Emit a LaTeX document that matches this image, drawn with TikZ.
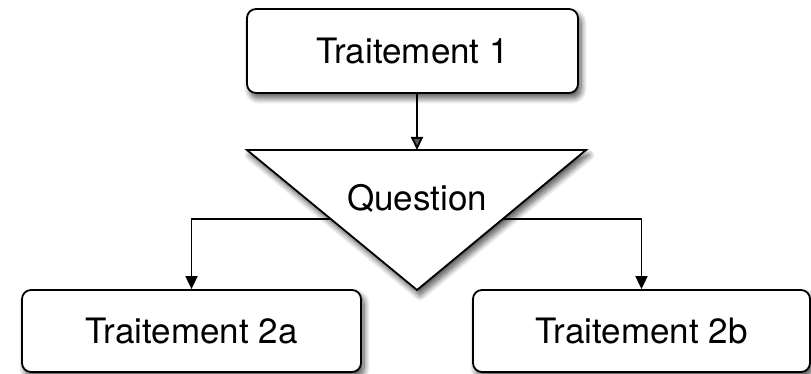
\documentclass[tikz,border=0pt]{standalone}
\usepackage{fontspec}
\setmainfont{TeX Gyre Heros}
\usetikzlibrary{arrows.meta,calc,shadows.blur}
\tikzset{
  x=1pt,y=-1pt,
  sh/.style={blur shadow={shadow xshift=3pt,shadow yshift=-5pt,shadow blur radius=6pt,shadow opacity=70,shadow blur steps=12}},
  box/.style={draw=black,line width=1.8pt,fill=white,rounded corners=9pt,sh,
    font=\fontsize{35}{40}\selectfont,inner sep=0pt},
  conn/.style={line width=1.8pt,-{Triangle[length=13pt,width=12pt]}},
  lbl/.style={font=\fontsize{35}{40}\selectfont,inner sep=0pt}
}
\begin{document}
\begin{tikzpicture}
\useasboundingbox (0,0) rectangle (811,374);
% nodes
\node[box,minimum width=331pt,minimum height=84pt] (t1) at (412.5,51) {Traitement 1};
\coordinate (qtl) at (247,150);
\coordinate (qtr) at (586,150);
\coordinate (qb) at (417,290);
\coordinate (qtop) at (417,150);
\node[box,minimum width=339pt,minimum height=82pt] (t2a) at (191.5,331) {Traitement 2a};
\node[box,minimum width=337pt,minimum height=82pt] (t2b) at (641.5,331) {Traitement 2b};
% connectors behind the triangle
\coordinate (ql) at ($(qtl)!0.493!(qb)$);
\coordinate (qr) at ($(qtr)!0.493!(qb)$);
\draw[conn] (ql) -| (t2a.north);
\draw[conn] (qr) -| (t2b.north);
% triangle
\draw[line width=1.8pt,fill=white,line join=miter,sh] (qtl) -- (qtr) -- (qb) -- cycle;
\node[lbl] (q) at (417,198) {Question};
\draw[conn] (t1.south -| qtop) -- (qtop);
\end{tikzpicture}
\end{document}
